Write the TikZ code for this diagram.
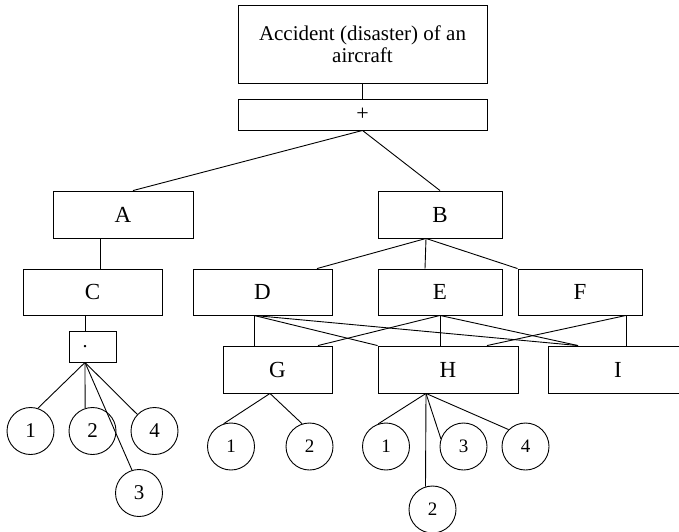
\documentclass[tikz,border=0pt]{standalone}
\usepackage{fontspec}
\setmainfont{Liberation Serif}
\begin{document}
\begin{tikzpicture}[x=1pt, y=-1pt, line width=0.9pt,
    blk/.style={draw, inner sep=0pt, minimum height=47pt, font=\fontsize{23}{27}\selectfont},
    ev/.style={draw, circle, inner sep=0pt, minimum size=47pt, font=\fontsize{19}{23}\selectfont},
    evbig/.style={ev, font=\fontsize{21}{25}\selectfont}]
\useasboundingbox (0,0) rectangle (679,531);
\clip (0,0) rectangle (679,531);

% top event and the OR gate under it
\node[blk, minimum width=249pt, minimum height=78pt, align=center, font=\fontsize{21}{22}\selectfont]
    (top) at (362.5,44) {Accident (disaster) of an\\aircraft};
\node[blk, minimum width=249pt, minimum height=31pt, font=\fontsize{22}{26}\selectfont]
    (plus) at (362.5,114.5) {\raisebox{-4pt}{+}};

% intermediate events
\node[blk, minimum width=140pt] (A) at (123,214.5) {A};
\node[blk, minimum width=124pt] (B) at (440,214.5) {B};
\node[blk, minimum width=139pt, minimum height=46pt] (C) at (92.5,292) {C};
\node[blk, minimum width=139pt, minimum height=46pt] (D) at (262.5,292) {D};
\node[blk, minimum width=124pt, minimum height=46pt] (E) at (440,292) {E};
\node[blk, minimum width=124pt, minimum height=46pt] (F) at (580,292) {F};
\node[blk, minimum width=47pt, minimum height=31pt, font=\fontsize{20}{24}\selectfont] (and) at (92.5,346.5) {\hspace*{-15pt}.};
\node[blk, minimum width=109pt] (G) at (277.5,369.5) {G};
\node[blk, minimum width=140pt] (H) at (448,369.5) {H};
\node[blk, minimum width=140pt] (I) at (618,369.5) {I};

% basic events
\node[evbig] (l1) at (30.5,431) {1};
\node[evbig] (l2) at (92.5,431) {2};
\node[evbig] (l4) at (154.5,431) {4};
\node[evbig] (l3) at (139,493) {3};
\node[ev] (g1) at (231,446.5) {1};
\node[ev] (g2) at (309.5,446.5) {2};
\node[ev] (h1) at (386,446.5) {1};
\node[ev] (h3) at (463.5,446.5) {3};
\node[ev] (h4) at (525.5,446.5) {4};
\node[ev] (h2) at (432.5,509.5) {2};

% connectors
\draw (top.south) -- (plus.north);
\draw (plus.south) -- ([xshift=10pt]A.north);
\draw (plus.south) -- (B.north);
\draw ([xshift=7.5pt]C.north) -- ([xshift=7.5pt]C.north |- A.south);
\draw ([xshift=-7.5pt]C.south) -- ([xshift=-7.5pt]and.north);

\draw ([xshift=-14pt]B.south) -- ([xshift=54.5pt]D.north);
\draw ([xshift=-14pt]B.south) -- ([xshift=-15pt]E.north);
\draw ([xshift=-14pt]B.south) -- (F.north west);

\draw ([xshift=-8.5pt]D.south) -- ([xshift=-23.5pt]G.north);
\draw ([xshift=-8.5pt]D.south) -- (H.north west);
\draw ([xshift=-8.5pt]D.south) -- ([xshift=-40pt]I.north);
\draw (E.south) -- ([xshift=40.5pt]G.north);
\draw (E.south) -- ([xshift=-8pt]H.north);
\draw (E.south) -- ([xshift=-40pt]I.north);
\draw ([xshift=46pt]F.south) -- ([xshift=8pt]I.north);
\draw ([xshift=46pt]F.south) -- ([xshift=39pt]H.north);

\draw ([xshift=-7.5pt]and.south) -- (l1.72);
\draw ([xshift=-7.5pt]and.south) -- (l2.108);
\draw ([xshift=-7.5pt]and.south) -- (l3.107);
\draw ([xshift=-7.5pt]and.south) -- (l4.136);

\draw ([xshift=-7.5pt]G.south) -- (g1.108);
\draw ([xshift=-7.5pt]G.south) -- (g2.108);
\draw ([xshift=-22pt]H.south) -- (h1.109);
\draw ([xshift=-22pt]H.south) -- (h2.107);
\draw ([xshift=-22pt]H.south) -- (h3.161);
\draw ([xshift=-22pt]H.south) -- (h4.135);
\end{tikzpicture}
\end{document}
